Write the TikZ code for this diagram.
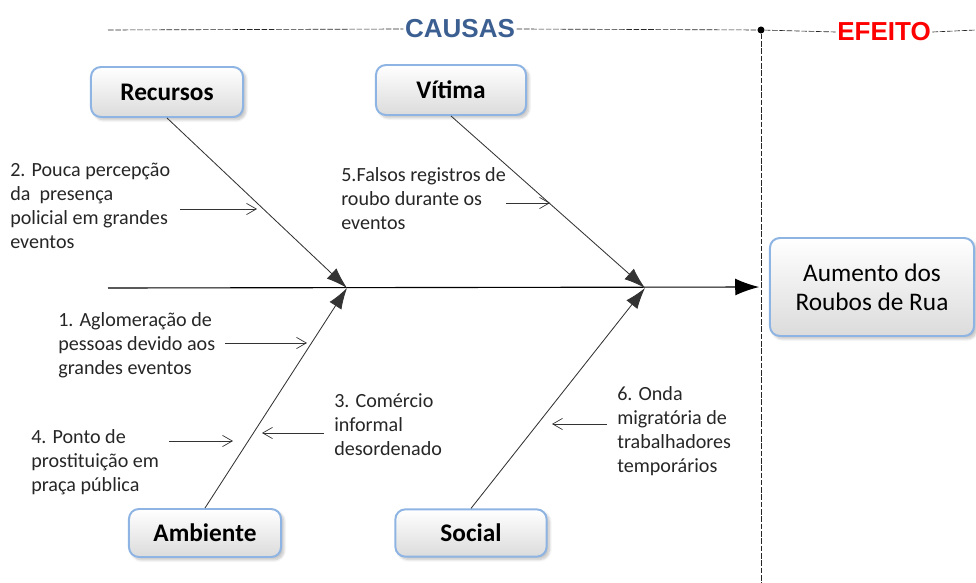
\documentclass[tikz,border=0pt]{standalone}
\usepackage{fontspec}
\setmainfont{Carlito}
\newfontfamily\headfont{Liberation Sans}
\usetikzlibrary{arrows.meta, positioning, calc, shadows.blur}
\definecolor{boxblue}{HTML}{8EB4E3}
\definecolor{causasblue}{HTML}{3C5F91}
\definecolor{efeitored}{HTML}{FF0000}

\begin{document}
\begin{tikzpicture}[x=0.025cm, y=-0.025cm,
    catbox/.style={draw=boxblue, line width=1.4pt, rounded corners=7pt,
        top color=white, bottom color=black!14,
        minimum width=3.8cm, minimum height=1.25cm,
        font=\fontsize{18}{20}\selectfont\bfseries,
        blur shadow={shadow xshift=2pt, shadow yshift=-2pt, shadow blur steps=8, shadow opacity=25}},
    causetext/.style={anchor=north west, align=left, inner sep=0pt, text=black!85,
        font=\fontsize{14.3}{17.1}\selectfont},
    bone/.style={draw=black!80, line width=0.6pt, -{Latex[length=15pt,width=10pt]}},
    hint/.style={draw=black!80, line width=0.5pt, -{Straight Barb[length=7pt,width=8pt]}, shorten <=7pt},
    head/.style={font=\headfont\bfseries\fontsize{18.5}{20}\selectfont, inner sep=1pt},
    guide/.style={draw=black!85, line width=0.45pt, dash pattern=on 4pt off 1.2pt}]

    \useasboundingbox (0,0) rectangle (976,583);

    % Header
    \coordinate (topL) at (108,30);
    \coordinate (topR) at (976,30);
    \coordinate (bottom) at (761,583);
    \node[head, text=causasblue] (causas) at (460,29) {CAUSAS};
    \node[head, text=efeitored] (efeito) at (884,32) {EFEITO};
    \node[circle, fill=black, inner sep=0pt, minimum size=5pt] (dot) at (761,30) {};

    \draw[guide] (topL) -- (causas.west);
    \draw[guide] (causas.east) -- (dot);
    \draw[guide] (dot) -- (efeito.west);
    \draw[guide] (efeito.east) -- (topR);
    \draw[guide] (dot) -- (bottom);

    % Nodes
    \node[catbox] (recursos) at (167,92) {Recursos};
    \node[catbox, minimum width=3.75cm] (vitima) at (451,90) {Vítima};
    \node[catbox, minimum height=1.2cm] (ambiente) at (205,533) {Ambiente};
    \node[catbox, minimum width=3.78cm, minimum height=1.18cm] (social) at (471,533) {Social};
    \node[catbox, minimum width=5.1cm, minimum height=2.45cm, align=center,
        font=\fontsize{18}{20.5}\selectfont] (aumento) at (872,287) {Aumento dos\\Roubos de Rua};

    % Spine and bones
    \coordinate (tail) at (108,288);
    \coordinate (joint1) at (347,288);
    \coordinate (joint2) at (645,288);

    \draw[line width=0.8pt, -{Latex[length=17pt,width=12pt]}, shorten >=7pt] (tail) -- (aumento.west);
    \draw[bone] (recursos.south) -- (joint1);
    \draw[bone] (ambiente.north) -- (joint1);
    \draw[bone] (vitima.south) -- (joint2);
    \draw[bone] (social.north) -- (joint2);

    % Causes
    \node[causetext] (t2) at (10,163) {2. Pouca percepção\\da~ presença\\policial em grandes\\eventos};
    \node[causetext] (t5) at (341,167) {5.Falsos registros de\\roubo durante os\\eventos};
    \node[causetext] (t1) at (58,312) {1. Aglomeração de\\pessoas devido aos\\grandes eventos};
    \node[causetext] (t3) at (334,393) {3. Comércio\\informal\\desordenado};
    \node[causetext] (t4) at (31,429) {4. Ponto de\\prostituição em\\praça pública};
    \node[causetext] (t6) at (617,386) {6. Onda\\migratória de\\trabalhadores\\temporários};

    \coordinate (p2) at (257,209);
    \coordinate (p5) at (550,203);
    \coordinate (p1) at (307,343);
    \coordinate (p3) at (262,433);
    \coordinate (p4) at (233,441);
    \coordinate (p6) at (552,424);

    \draw[hint] (t2.east |- p2) -- (p2);
    \draw[hint, shorten <=0pt] (t5.east |- p5) -- (p5);
    \draw[hint] (t1.east |- p1) -- (p1);
    \draw[hint] (t3.west |- p3) -- (p3);
    \draw[hint] (t4.east |- p4) -- (p4);
    \draw[hint] (t6.west |- p6) -- (p6);

\end{tikzpicture}
\end{document}
